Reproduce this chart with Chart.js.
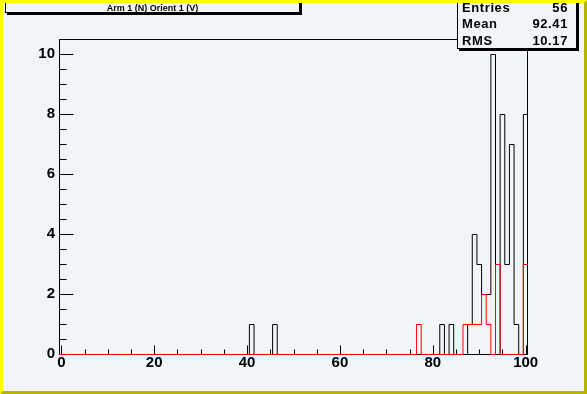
<!DOCTYPE html>
<html>
<head>
<meta charset="utf-8">
<script src="https://cdn.jsdelivr.net/npm/chart.js@4/dist/chart.umd.min.js"></script>
<style>
html,body{margin:0;padding:0;}
body{width:587px;height:394px;position:relative;overflow:hidden;background:#f2f5f7;font-family:"Liberation Sans",Arial,Helvetica,sans-serif;}
#c{position:absolute;left:0;top:0;}
.pave{position:absolute;box-sizing:border-box;border:1px solid #000;box-shadow:2px 2px 0 #000;background:#f2f5f7;}
#title{position:absolute;left:5px;width:295px;top:2.5px;line-height:11px;font-size:9px;font-weight:bold;text-align:center;color:#000;white-space:nowrap;}
.srow{position:absolute;left:462px;width:106px;height:16.5px;line-height:16.5px;font-size:13px;font-weight:bold;letter-spacing:0.6px;color:#000;white-space:nowrap;}
.srow .v{position:absolute;right:0;top:0;}
#border{position:absolute;left:0;top:0;width:587px;height:394px;box-sizing:border-box;border-style:solid;border-width:3px;border-color:#ffff00 #b3b300 #b3b300 #ffff00;pointer-events:none;}
</style>
</head>
<body>
<canvas id="c" width="587" height="394"></canvas>
<div class="pave" style="left:5px;top:-3px;width:295px;height:16px;"></div>
<div id="title"></div>
<div class="pave" style="left:457px;top:-3px;width:120px;height:52px;"></div>
<div id="stats"></div>
<div id="border"></div>
<script>
// ---- data (bin centres = integer values) ----
const titleText = "Arm 1 (N) Orient 1 (V)";
const blackBins   = [41, 46, 82, 84, 88, 89, 90, 91, 92, 93, 95, 96, 97, 98, 100];
const blackCounts = [ 1,  1,  1,  1,  1,  4,  3,  2,  2, 10,  8,  3,  7,  1,   8];
const redBins     = [77, 87, 88, 89, 90, 91, 92, 94, 100];
const redCounts   = [ 1,  1,  1,  1,  1,  2,  1,  3,   3];
const xTickLabels = [0, 20, 40, 60, 80, 100];
const yTickLabels = [0, 2, 4, 6, 8, 10];
const statNames   = ["Entries", "Mean", "RMS"];
const statValues  = ["56", "92.41", "10.17"];

// histogram binning
const nBins = 101, xLow = -0.5, binWidth = 1;
const xMin = -0.5, xMax = 100.5, yMin = 0, yMax = 10.5;
const xMinorStep = 5, xMajorStep = 20, yMinorStep = 0.5, yMajorStep = 2;

document.getElementById('title').textContent = titleText;
const statsDiv = document.getElementById('stats');
const rowTops = [-0.3, 16.2, 32.7];
statNames.forEach((n, i) => {
  const r = document.createElement('div');
  r.className = 'srow';
  r.style.top = rowTops[i] + 'px';
  const a = document.createElement('span'); a.textContent = n;
  const b = document.createElement('span'); b.className = 'v'; b.textContent = statValues[i];
  r.appendChild(a); r.appendChild(b);
  statsDiv.appendChild(r);
});

function fullCounts(bins, counts) {
  const arr = new Array(nBins).fill(0);
  bins.forEach((c, i) => { arr[Math.round((c - xLow) / binWidth - 0.5)] = counts[i]; });
  return arr;
}
function stepPoints(arr) {
  const pts = arr.map((v, k) => ({ x: xLow + k * binWidth, y: v }));
  pts.push({ x: xLow + nBins * binWidth, y: arr[nBins - 1] });
  return pts;
}

const frameAndTicks = {
  id: 'frameAndTicks',
  beforeDatasetsDraw(chart) {
    const { ctx, chartArea: a, scales: { x, y } } = chart;
    ctx.save();
    ctx.strokeStyle = '#000';
    ctx.lineWidth = 1;
    ctx.beginPath();
    // frame
    ctx.rect(a.left + 0.5, a.top + 0.5, a.right - a.left - 1, a.bottom - a.top);
    // x ticks (inside, upwards)
    for (let v = 0; v <= 100 + 1e-9; v += xMinorStep) {
      const px = Math.round(x.getPixelForValue(v)) + 0.5;
      const len = (Math.abs(v % xMajorStep) < 1e-9) ? 9 : 5;
      ctx.moveTo(px, a.bottom + 0.5);
      ctx.lineTo(px, a.bottom + 0.5 - len);
    }
    // y ticks (inside, rightwards)
    for (let v = yMin; v <= yMax + 1e-9; v += yMinorStep) {
      const py = Math.round(y.getPixelForValue(v)) + 0.5;
      const len = (Math.abs(v % yMajorStep) < 1e-9) ? 14 : 7;
      ctx.moveTo(a.left + 0.5, py);
      ctx.lineTo(a.left + 0.5 + len, py);
    }
    ctx.stroke();
    ctx.restore();
    ctx.save();
    ctx.translate(0, 0.5);
  },
  afterDatasetsDraw(chart) {
    chart.ctx.restore();
  }
};

const tickFont = { family: '"Liberation Sans", Arial, sans-serif', size: 15, weight: 'bold' };

new Chart(document.getElementById('c'), {
  type: 'line',
  data: {
    datasets: [
      { label: 'red', data: stepPoints(fullCounts(redBins, redCounts)), borderColor: '#ff0000',
        borderWidth: 1, pointRadius: 0, stepped: 'before', fill: false, clip: 3, order: 0 },
      { label: 'black', data: stepPoints(fullCounts(blackBins, blackCounts)), borderColor: '#000000',
        borderWidth: 1, pointRadius: 0, stepped: 'before', fill: false, clip: 3, order: 1 }
    ]
  },
  options: {
    responsive: false,
    animation: false,
    devicePixelRatio: 1,
    layout: { padding: { left: 0, top: 39, right: 59, bottom: 0 } },
    plugins: { legend: { display: false }, tooltip: { enabled: false }, title: { display: false } },
    scales: {
      x: {
        type: 'linear', min: xMin, max: xMax,
        grid: { display: false, drawTicks: false },
        border: { display: false },
        ticks: { font: tickFont, color: '#000', padding: 0, maxRotation: 0 },
        afterBuildTicks: s => { s.ticks = xTickLabels.map(v => ({ value: v })); },
        afterFit: s => { s.height = 40; }
      },
      y: {
        type: 'linear', min: yMin, max: yMax,
        grid: { display: false, drawTicks: false },
        border: { display: false },
        ticks: { font: tickFont, color: '#000', padding: 4 },
        afterBuildTicks: s => { s.ticks = yTickLabels.map(v => ({ value: v })); },
        afterFit: s => { s.width = 59; }
      }
    }
  },
  plugins: [frameAndTicks]
});
</script>
</body>
</html>
